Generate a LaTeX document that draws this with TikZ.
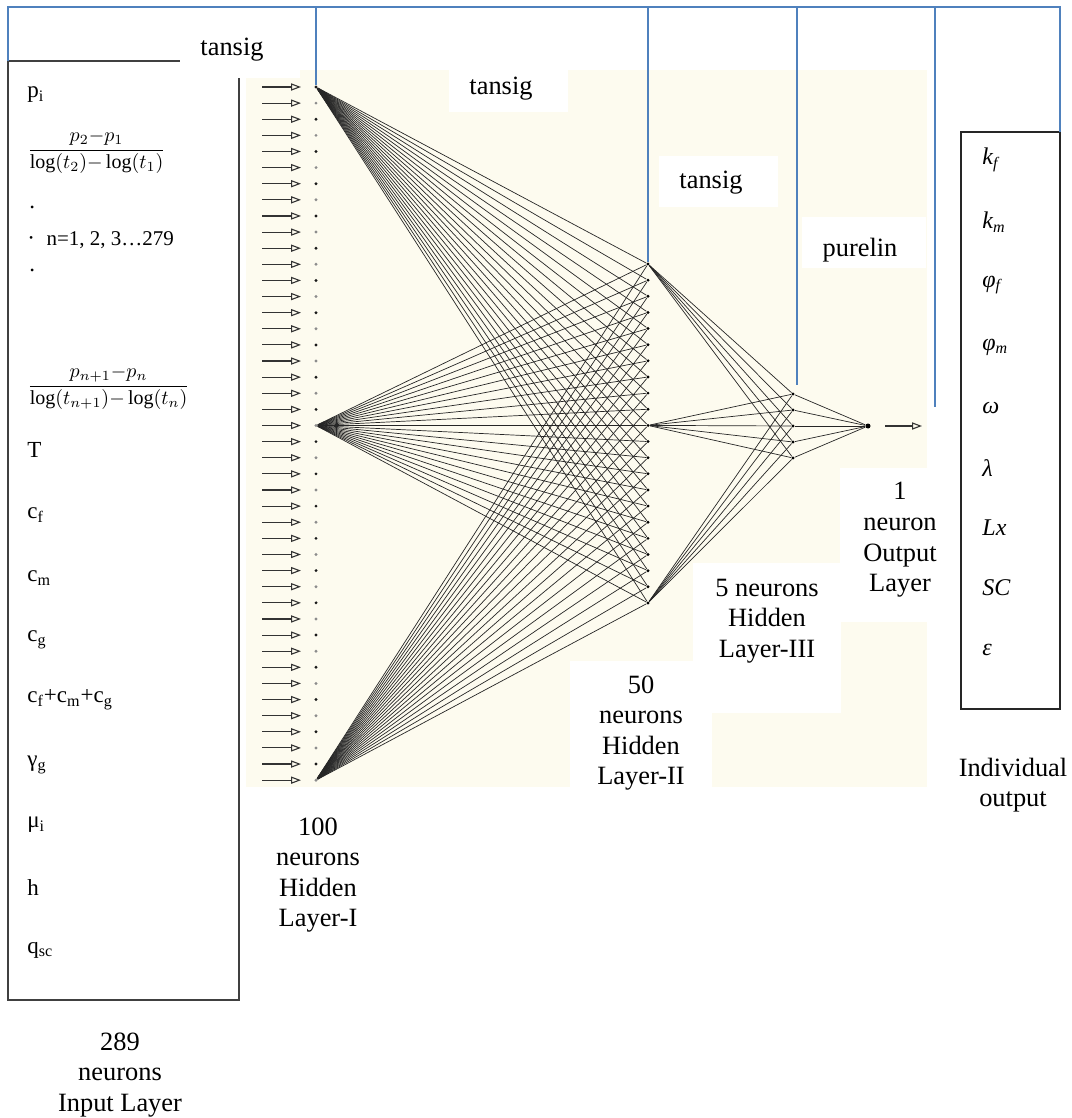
\documentclass[tikz,border=0pt]{standalone}
\usepackage{fontspec}
\setmainfont{Liberation Serif}
\usepackage{xcolor}
\usepackage{tikz}
\usetikzlibrary{arrows.meta}
\definecolor{annBlue}{HTML}{4F81BD}
\definecolor{annCream}{HTML}{FDFBEF}
\definecolor{annFrame}{HTML}{404040}
\definecolor{annInk}{HTML}{262626}
\tikzset{
  listbox/.style={rectangle, draw=annFrame, line width=1pt, inner sep=0pt, outer sep=0pt},
  neuron/.style={circle, fill=black, inner sep=0pt, minimum size=1.6pt},
  syn/.style={draw=black!85, line width=0.35pt},
  feed/.style={-{Triangle[open,length=5pt,width=3.6pt]}, draw=black!80, line width=0.55pt},
  bus/.style={draw=annBlue, line width=1pt},
  lbl/.style={align=center, inner sep=0pt, font=\fontsize{13.2}{15.3}\selectfont},
  item/.style={anchor=west, inner sep=0pt, font=\fontsize{11.5}{13}\selectfont},
  outitem/.style={anchor=west, inner sep=0pt, font=\fontsize{12}{14}\selectfont\itshape}
}
\begin{document}
\begin{tikzpicture}[x=0.5pt, y=-0.5pt]
  \useasboundingbox (0,0) rectangle (1071,1118);
  % backdrop of the network
  \fill[annCream] (246,70) rectangle (927,787);

  \node[listbox, minimum width=115.5pt, minimum height=469.5pt] (inbox) at (123.5,530.5) {};
  \node[listbox, draw=annInk, line width=0.7pt, minimum width=49.5pt, minimum height=288.5pt] (outbox) at (1010.5,420.5) {};

  % white patches behind the labels
  \fill[white] (180,30) rectangle (300,78);
  \fill[white] (449,70) rectangle (568,112);
  \fill[white] (659,156) rectangle (778,207);
  \fill[white] (802,217) rectangle (926,268);
  \fill[white] (840,468) rectangle (927,622);
  \fill[white] (693,563) rectangle (841,713);
  \fill[white] (570,661) rectangle (712,787);

  % layers
  \foreach \i [evaluate=\i as \y using 87+\i*16.12, evaluate=\i as \tone using {int(90-45*mod(\i,2))}] in {0,...,43} {
    \coordinate (xa\i) at (262,\y);
    \coordinate (xb\i) at (301,\y);
    \node[neuron, fill=black!\tone] (n1-\i) at (316,\y) {};
    \draw[feed] (xa\i) -- (xb\i);
  }
  \foreach \j [evaluate=\j as \y using 264+\j*16.14] in {0,...,21}
    \node[neuron] (n2-\j) at (648,\y) {};
  \foreach \k [evaluate=\k as \y using 394+\k*16] in {0,...,4}
    \node[neuron] (n3-\k) at (793,\y) {};
  \node[neuron, minimum size=2.5pt] (out) at (868,426) {};
  \coordinate (ya) at (885,426);
  \coordinate (yb) at (922,426);

  % weights
  \foreach \s in {0,21,43}
    \foreach \j in {0,...,21}
      \draw[syn] (n1-\s) -- (n2-\j);
  \foreach \s in {0,10,21}
    \foreach \k in {0,...,4}
      \draw[syn] (n2-\s) -- (n3-\k);
  \foreach \k in {0,...,4}
    \draw[syn] (n3-\k) -- (out);
  \draw[feed] (ya) -- (yb);

  % transfer function lines
  \coordinate (ridge) at (0,7);
  \coordinate (t3) at (797,385);
  \coordinate (t4) at (935,407);
  \draw[bus] (inbox.north west) |- (ridge -| outbox.north east) -- (outbox.north east);
  \foreach \t in {n1-0,n2-0,t3,t4}
    \draw[bus] (\t |- ridge) -- (\t);

  \node[lbl] (tf1) at (232,50) {tansig};
  \node[lbl] (tf2) at (501,89) {tansig};
  \node[lbl] (tf3) at (711,183) {tansig};
  \node[lbl] (tf4) at (860,250) {purelin};

  \node[lbl] (capin) at (120,1075) {289\\neurons\\Input Layer};
  \node[lbl] (cap1) at (318,875) {100\\neurons\\Hidden\\Layer-I};
  \node[lbl] (cap2) at (641,733) {50\\neurons\\Hidden\\Layer-II};
  \node[lbl] (cap3) at (767,621) {5 neurons\\Hidden\\Layer-III};
  \node[lbl] (capout) at (900,540) {1\\neuron\\Output\\Layer};
  \node[lbl] (capind) at (1013,785) {Individual\\output};

  % inputs
  \node[item] (pi) at (27,95) {p\textsubscript{i}};
  \node[item] (slope1) at (27,152) {\fontsize{10}{12}\selectfont$\displaystyle\frac{p_2{-}p_1}{\log(t_2){-}\log(t_1)}$};
  \node[item] (dotA) at (29,207) {.};
  \node[item] (range) at (27,240) {·\ \ {\fontsize{10.5}{12}\selectfont n=1, 2, 3…279}};
  \node[item] (dotB) at (29,270) {.};
  \node[item] (slopeN) at (27,388) {\fontsize{10}{12}\selectfont$\displaystyle\frac{p_{n+1}{-}p_n}{\log(t_{n+1}){-}\log(t_n)}$};
  \node[item] (temp) at (27,450) {T};
  \node[item] (cf) at (27,515) {c\textsubscript{f}};
  \node[item] (cm) at (27,578) {c\textsubscript{m}};
  \node[item] (cg) at (27,640) {c\textsubscript{g}};
  \node[item] (csum) at (27,700) {c\textsubscript{f}+c\textsubscript{m}+c\textsubscript{g}};
  \node[item] (gam) at (27,765) {γ\textsubscript{g}};
  \node[item] (mu) at (27,825) {μ\textsubscript{i}};
  \node[item] (hh) at (27,888) {h};
  \node[item] (qsc) at (27,950) {q\textsubscript{sc}};

  % outputs
  \node[outitem] (kf) at (982,160) {k\textsubscript{f}};
  \node[outitem] (km) at (982,222) {k\textsubscript{m}};
  \node[outitem] (phf) at (982,285) {φ\textsubscript{f}};
  \node[outitem] (phm) at (982,347) {φ\textsubscript{m}};
  \node[outitem] (om) at (982,408) {ω};
  \node[outitem] (lam) at (982,468) {λ};
  \node[outitem] (lx) at (982,528) {Lx};
  \node[outitem] (sc) at (982,588) {SC};
  \node[outitem] (eps) at (982,650) {ε};
\end{tikzpicture}
\end{document}
